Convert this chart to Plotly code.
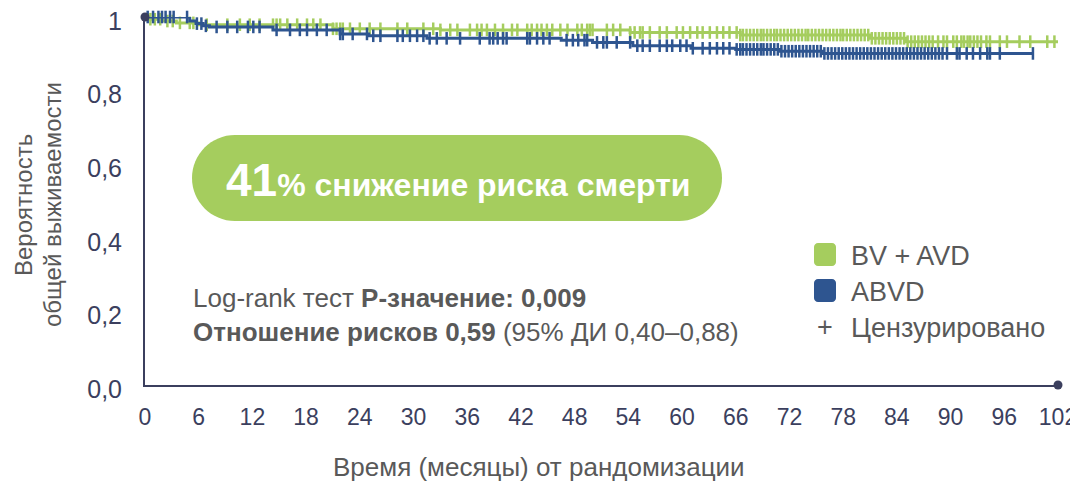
import numpy as np
import plotly.graph_objects as go

# ---------------- data ----------------
x_ticks = [0, 6, 12, 18, 24, 30, 36, 42, 48, 54, 60, 66, 72, 78, 84, 90, 96, 102]
y_ticks = [0.0, 0.2, 0.4, 0.6, 0.8, 1.0]
y_tick_text = ["0,0", "0,2", "0,4", "0,6", "0,8", "1"]

# BV + AVD  (step times in months, survival after each step)
bv_t = [0, 0.5, 2.0, 3.5, 6.0, 21.0, 33.0, 54.2, 66.5, 81.0, 85.0, 102.0]
bv_s = [1.0, 0.994, 0.989, 0.984, 0.979, 0.968, 0.965, 0.958, 0.951, 0.942, 0.933, 0.933]

# ABVD
abvd_t = [0, 5.0, 5.7, 6.5, 7.2, 14.3, 21.8, 25.0, 31.5, 46.5, 50.0, 54.5, 61.0, 66.0, 71.0, 75.7, 99.2]
abvd_s = [1.0, 0.989, 0.982, 0.976, 0.973, 0.965, 0.954, 0.949, 0.942, 0.937, 0.931, 0.922, 0.915, 0.912, 0.907, 0.901, 0.901]

# censored observations (months)
bv_cens = [0.6, 1.1, 1.7, 2.5, 3.1, 3.9, 5.0, 5.4, 6.9, 9.2, 10.6, 11.7, 12.8, 14.3, 14.7, 15.1,
           15.9, 17.0, 18.1, 18.8, 19.6, 21.0, 21.4, 21.8, 22.1, 22.9, 24.0, 25.1, 26.3, 28.2, 29.3,
           31.1, 32.2, 33.0, 34.1, 34.9, 36.3, 37.1, 37.6, 38.2, 39.1, 40.0, 41.0, 41.6, 42.7, 43.2,
           43.8, 44.3, 44.9, 45.5, 46.4, 47.2, 48.3, 48.8, 49.4, 49.7, 50.0, 51.6, 52.3, 53.1, 54.2,
           54.7, 55.3, 55.6, 56.4, 57.5, 58.3, 59.4, 60.1, 60.9, 61.7, 62.3, 63.1, 63.9, 64.6, 65.3,
           66.1, 66.5, 66.8, 67.2, 67.6, 68.0, 68.4, 68.8, 69.1, 69.5, 69.9, 70.3, 70.6, 71.0, 71.4,
           71.8, 72.2, 72.6, 73.0, 73.4, 73.8, 74.1, 74.5, 74.9, 75.3, 75.7, 76.1, 76.5, 76.9, 77.3,
           77.7, 78.0, 78.4, 78.8, 79.2, 79.6, 80.0, 80.4, 80.8, 81.2, 81.6, 82.0, 82.4, 82.8, 83.2,
           83.6, 84.0, 84.4, 84.8, 85.2, 85.6, 86.0, 86.4, 86.8, 87.2, 87.6, 88.0, 88.6, 89.2, 89.6,
           90.3, 90.7, 91.2, 91.5, 91.9, 92.2, 92.6, 93.0, 93.4, 94.0, 94.4, 95.5, 96.3, 97.7, 98.9,
           100.8, 101.6]
abvd_cens = [0.3, 0.9, 1.5, 1.9, 2.3, 2.8, 3.2, 4.7, 5.8, 6.3, 6.8, 8.0, 9.2, 10.3, 11.5, 12.1,
             12.8, 14.7, 16.2, 17.3, 18.1, 19.2, 20.3, 21.8, 22.1, 23.2, 24.8, 25.5, 26.3, 28.2, 28.8,
             29.6, 30.4, 31.1, 31.8, 32.6, 33.7, 35.2, 37.4, 38.5, 38.9, 39.4, 40.0, 40.4, 42.7, 43.0,
             43.8, 44.5, 45.2, 47.1, 47.8, 48.4, 49.1, 49.4, 50.5, 51.2, 51.6, 52.7, 54.2, 55.0, 55.6,
             56.4, 57.5, 58.3, 58.9, 59.8, 60.5, 61.2, 62.3, 63.1, 63.9, 64.6, 65.3, 66.1, 66.5, 66.8,
             67.2, 67.6, 68.0, 68.4, 68.8, 69.1, 69.5, 69.9, 70.3, 70.7, 71.1, 71.5, 71.9, 72.3, 72.7,
             73.1, 73.5, 73.9, 74.3, 74.7, 75.1, 75.5, 75.9, 76.3, 76.7, 77.1, 77.5, 77.9, 78.3, 78.7,
             79.1, 79.5, 79.9, 80.3, 80.7, 81.1, 81.5, 81.9, 82.3, 82.7, 83.1, 83.5, 83.9, 84.3, 84.7,
             85.1, 85.5, 85.9, 86.3, 86.7, 87.1, 87.5, 87.9, 88.3, 88.7, 89.1, 89.6, 90.7, 91.0, 91.8,
             92.5, 93.3, 94.1, 94.4, 95.5, 99.2]

legend_labels = ["BV + AVD", "ABVD", "Цензурировано"]
badge_number = "41"
badge_text = "% снижение риска смерти"
stats_line1 = "Log-rank тест <b>P-значение: 0,009</b>"
stats_line2 = "<b>Отношение рисков 0,59</b> (95% ДИ 0,40–0,88)"
x_title = "Время (месяцы) от рандомизации"
y_title_lines = ["Вероятность", "общей выживаемости"]

# ---------------- styling ----------------
GREEN = "#a5cd5e"
BLUE = "#2e5590"
AXIS = "#3b3f5e"
GREY = "#595959"
FONT = "Liberation Sans, Arial, sans-serif"

# the page puts the figure 8 px in from the top-left corner
OFF = 8
W, H = 1078 - OFF, 486 - OFF
L, R, T, B = 145 - OFF, 20, 17 - OFF, 101
X_RANGE = [0, 102]
Y_RANGE = [0, 1.0]


def px(x):
    """page pixel x -> paper coordinate"""
    return (x - OFF - L) / (W - L - R)


def py(y):
    """page pixel y -> paper coordinate"""
    return (H - B - (y - OFF)) / (H - T - B)


def step_value(times, surv, t):
    i = np.searchsorted(np.asarray(times), t, side="right") - 1
    return float(np.asarray(surv)[max(i, 0)])


fig = go.Figure()

for t, s, cens, col in [(bv_t, bv_s, bv_cens, GREEN), (abvd_t, abvd_s, abvd_cens, BLUE)]:
    fig.add_trace(go.Scatter(x=t, y=s, mode="lines", line=dict(color=col, width=3, shape="hv"),
                             hoverinfo="skip", showlegend=False, cliponaxis=False))
    fig.add_trace(go.Scatter(x=cens, y=[step_value(t, s, c) for c in cens], mode="markers",
                             marker=dict(symbol="line-ns", size=9, line=dict(color=col, width=2.5)),
                             hoverinfo="skip", showlegend=False, cliponaxis=False))

# axis end dots
fig.add_trace(go.Scatter(x=[X_RANGE[1], X_RANGE[0]], y=[Y_RANGE[0], Y_RANGE[1]], mode="markers",
                         marker=dict(color=AXIS, size=9), hoverinfo="skip", showlegend=False,
                         cliponaxis=False))


def pill_path(hw, hh):
    k = 0.5523 * hh
    a = hw - hh
    return (f"M {-a},{-hh} L {a},{-hh} C {a + k},{-hh} {hw},{-k} {hw},0 "
            f"C {hw},{k} {a + k},{hh} {a},{hh} L {-a},{hh} "
            f"C {-a - k},{hh} {-hw},{k} {-hw},0 C {-hw},{-k} {-a - k},{-hh} {-a},{-hh} Z")


def rounded_square(hw, hh, r):
    k = 0.5523 * r
    return (f"M {-hw + r},{-hh} L {hw - r},{-hh} C {hw - r + k},{-hh} {hw},{-hh + r - k} {hw},{-hh + r} "
            f"L {hw},{hh - r} C {hw},{hh - r + k} {hw - r + k},{hh} {hw - r},{hh} "
            f"L {-hw + r},{hh} C {-hw + r - k},{hh} {-hw},{hh - r + k} {-hw},{hh - r} "
            f"L {-hw},{-hh + r} C {-hw},{-hh + r - k} {-hw + r - k},{-hh} {-hw + r},{-hh} Z")


shapes = [
    dict(type="path", xref="paper", yref="paper", xsizemode="pixel", ysizemode="pixel",
         xanchor=px(457), yanchor=py(178), path=pill_path(265, 43),
         fillcolor=GREEN, line=dict(width=0), layer="below"),
    dict(type="path", xref="paper", yref="paper", xsizemode="pixel", ysizemode="pixel",
         xanchor=px(825), yanchor=py(254.5), path=rounded_square(11, 11.5, 4),
         fillcolor=GREEN, line=dict(width=0)),
    dict(type="path", xref="paper", yref="paper", xsizemode="pixel", ysizemode="pixel",
         xanchor=px(825), yanchor=py(290.5), path=rounded_square(11, 11.5, 4),
         fillcolor=BLUE, line=dict(width=0)),
]

annotations = [
    dict(x=px(458), y=py(180), xref="paper", yref="paper", showarrow=False,
         text=f"<b><span style='font-size:46px'>{badge_number}</span>{badge_text}</b>",
         font=dict(family=FONT, size=32, color="white"), xanchor="center", yanchor="middle"),
    dict(x=px(191), y=py(298), xref="paper", yref="paper", showarrow=False, text=stats_line1,
         font=dict(family=FONT, size=26, color=GREY), xanchor="left", yanchor="middle"),
    dict(x=px(191), y=py(332), xref="paper", yref="paper", showarrow=False, text=stats_line2,
         font=dict(family=FONT, size=26, color=GREY), xanchor="left", yanchor="middle"),
    dict(x=px(849), y=py(256), xref="paper", yref="paper", showarrow=False, text=legend_labels[0],
         font=dict(family=FONT, size=27, color=GREY), xanchor="left", yanchor="middle"),
    dict(x=px(849), y=py(292), xref="paper", yref="paper", showarrow=False, text=legend_labels[1],
         font=dict(family=FONT, size=27, color=GREY), xanchor="left", yanchor="middle"),
    dict(x=px(825), y=py(327), xref="paper", yref="paper", showarrow=False, text="+",
         font=dict(family=FONT, size=27, color=GREY), xanchor="center", yanchor="middle"),
    dict(x=px(849), y=py(328), xref="paper", yref="paper", showarrow=False, text=legend_labels[2],
         font=dict(family=FONT, size=27, color=GREY), xanchor="left", yanchor="middle"),
    dict(x=px(539), y=py(467), xref="paper", yref="paper", showarrow=False, text=x_title,
         font=dict(family=FONT, size=26, color=GREY), xanchor="center", yanchor="middle"),
    dict(x=px(23), y=py(205), xref="paper", yref="paper", showarrow=False, text=y_title_lines[0],
         textangle=-90, font=dict(family=FONT, size=24, color=GREY), xanchor="center",
         yanchor="middle", borderpad=0),
    dict(x=px(52), y=py(205), xref="paper", yref="paper", showarrow=False, text=y_title_lines[1],
         textangle=-90, font=dict(family=FONT, size=24, color=GREY), xanchor="center",
         yanchor="middle", borderpad=0),
]

fig.update_layout(
    width=W, height=H, margin=dict(l=L, r=R, t=T, b=B, autoexpand=False),
    paper_bgcolor="white", plot_bgcolor="white",
    shapes=shapes, annotations=annotations, showlegend=False,
    xaxis=dict(range=X_RANGE, tickvals=x_ticks, ticktext=[str(v) for v in x_ticks],
               showline=True, linecolor=AXIS, linewidth=2, showgrid=False, zeroline=False,
               automargin=False, ticks="", ticklabelstandoff=10, ticklabeloverflow="allow",
               tickfont=dict(family=FONT, size=23, color=AXIS)),
    yaxis=dict(range=Y_RANGE, tickvals=y_ticks, ticktext=y_tick_text,
               showline=True, linecolor=AXIS, linewidth=2, showgrid=False, zeroline=False,
               automargin=False, ticks="", ticklabelstandoff=16, ticklabeloverflow="allow",
               ticklabelshift=4, tickfont=dict(family=FONT, size=25, color=AXIS)),
)

fig.write_html("out.html")
